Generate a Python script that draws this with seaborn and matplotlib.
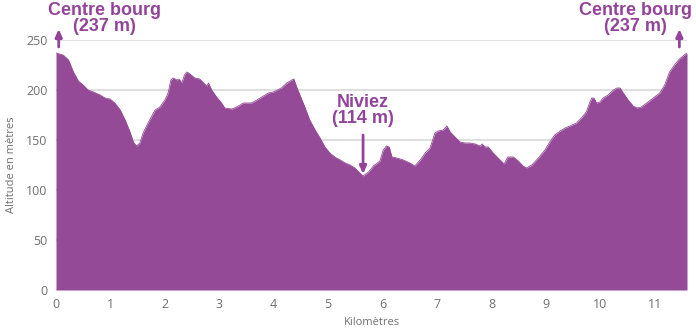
import matplotlib
matplotlib.use("Agg")
import matplotlib.pyplot as plt
import seaborn as sns
import pandas as pd

# Elevation profile of the loop (distance in km, altitude in m)
distance_km = [
    0.00, 0.13, 0.23, 0.32, 0.41, 0.50, 0.59, 0.69, 0.81, 0.90, 0.99, 1.08,
    1.18, 1.27, 1.36, 1.42, 1.48, 1.54, 1.60, 1.70, 1.82, 1.91, 2.00, 2.06,
    2.11, 2.15, 2.22, 2.26, 2.31, 2.36, 2.40, 2.46, 2.55, 2.64, 2.71, 2.77,
    2.80, 2.86, 2.95, 3.04, 3.10, 3.23, 3.32, 3.44, 3.59, 3.69, 3.78, 3.90,
    3.99, 4.14, 4.24, 4.33, 4.37, 4.42, 4.48, 4.57, 4.66, 4.76, 4.85, 4.94,
    5.03, 5.12, 5.22, 5.31, 5.40, 5.49, 5.58, 5.64, 5.74, 5.83, 5.95, 6.01,
    6.07, 6.12, 6.17, 6.26, 6.38, 6.50, 6.59, 6.69, 6.78, 6.87, 6.96, 7.02,
    7.11, 7.18, 7.24, 7.33, 7.42, 7.51, 7.60, 7.70, 7.79, 7.83, 7.88, 7.94,
    8.03, 8.12, 8.23, 8.30, 8.40, 8.49, 8.58, 8.64, 8.74, 8.86, 8.98, 9.07,
    9.16, 9.26, 9.35, 9.44, 9.56, 9.65, 9.74, 9.80, 9.84, 9.88, 9.93, 9.99,
    10.05, 10.14, 10.24, 10.30, 10.36, 10.42, 10.51, 10.60, 10.67, 10.75,
    10.85, 10.97, 11.09, 11.18, 11.27, 11.36, 11.45, 11.54, 11.59,
]
altitude_m = [
    237, 235, 230, 218, 209, 205, 200, 198, 195, 192, 191, 187,
    180, 170, 158, 148, 144, 147, 157, 168, 180, 183, 190, 197,
    210, 212, 210, 211, 207, 215, 218, 216, 212, 211, 207, 204,
    207, 200, 193, 187, 182, 181, 183, 187, 187, 190, 193, 197,
    198, 202, 207, 210, 211, 203, 195, 183, 170, 160, 152, 143,
    137, 133, 130, 127, 125, 122, 117, 114, 118, 124, 129, 140,
    144, 143, 133, 132, 130, 127, 124, 130, 137, 142, 157, 159,
    160, 164, 158, 153, 148, 147, 147, 146, 144, 146, 143, 143,
    137, 132, 126, 133, 133, 129, 124, 122, 125, 132, 140, 148,
    155, 159, 162, 164, 167, 172, 178, 187, 192, 192, 187, 188,
    192, 195, 200, 202, 202, 197, 190, 184, 182, 183,
    187, 192, 197, 205, 218, 225, 231, 235, 237,
]

# Named places along the route
place_labels = ["Centre bourg\n(237 m)", "Niviez\n(114 m)", "Centre bourg\n(237 m)"]
place_km = [0.05, 5.64, 11.45]
label_km = [0.89, 5.64, 10.64]

y_ticks = [0, 50, 100, 150, 200, 250]
x_ticks = list(range(0, 12))

profile = pd.DataFrame({"km": distance_km, "alt": altitude_m})

fill_color = "#954a97"
label_color = "#93449a"
tick_color = "#707070"

sns.set_style("white")
plt.rcParams["font.family"] = ["Open Sans", "DejaVu Sans"]

fig = plt.figure(figsize=(6.96, 3.29), dpi=100)
ax = fig.add_axes([56 / 696, 1 - 290 / 329, (687 - 56) / 696, 250 / 329])

sns.lineplot(data=profile, x="km", y="alt", ax=ax, color=fill_color,
             linewidth=0.6, zorder=3)
ax.fill_between(profile["km"], profile["alt"], 0, color=fill_color,
                linewidth=0, zorder=2)

ax.set_xlim(0, distance_km[-1])
ax.set_ylim(0, 250)
ax.set_yticks(y_ticks)
ax.set_xticks(x_ticks)
ax.yaxis.grid(True, color="#d9d9d9", linewidth=1.2, zorder=0)
ax.set_axisbelow(True)
for side in ["left", "right", "top", "bottom"]:
    ax.spines[side].set_visible(False)
ax.tick_params(axis="both", colors=tick_color, labelsize=9, length=0, pad=6)
ax.set_xlabel("Kilomètres", color=tick_color, fontsize=8, labelpad=4)
ax.set_ylabel("Altitude en mètres", color=tick_color, fontsize=8, labelpad=7)

ann_font = dict(family=["Liberation Sans", "DejaVu Sans"], fontweight="bold",
                fontsize=13, color=label_color, ha="center",
                linespacing=0.92)
arrow_style = dict(arrowstyle="-|>,head_length=0.45,head_width=0.2",
                   color=label_color, lw=2, shrinkA=0, shrinkB=0)

# Start / end markers with upward arrows, low point with a downward arrow
for i in (0, 2):
    ax.annotate("", xy=(place_km[i], 261), xytext=(place_km[i], 243),
                annotation_clip=False, arrowprops=arrow_style)
    ax.text(label_km[i], 255, place_labels[i], va="bottom", clip_on=False,
            **ann_font)

ax.annotate("", xy=(place_km[1], 116), xytext=(place_km[1], 155),
            arrowprops=arrow_style)
ax.text(label_km[1], 163, place_labels[1], va="bottom", **ann_font)

fig.savefig("out.png", dpi=100)
